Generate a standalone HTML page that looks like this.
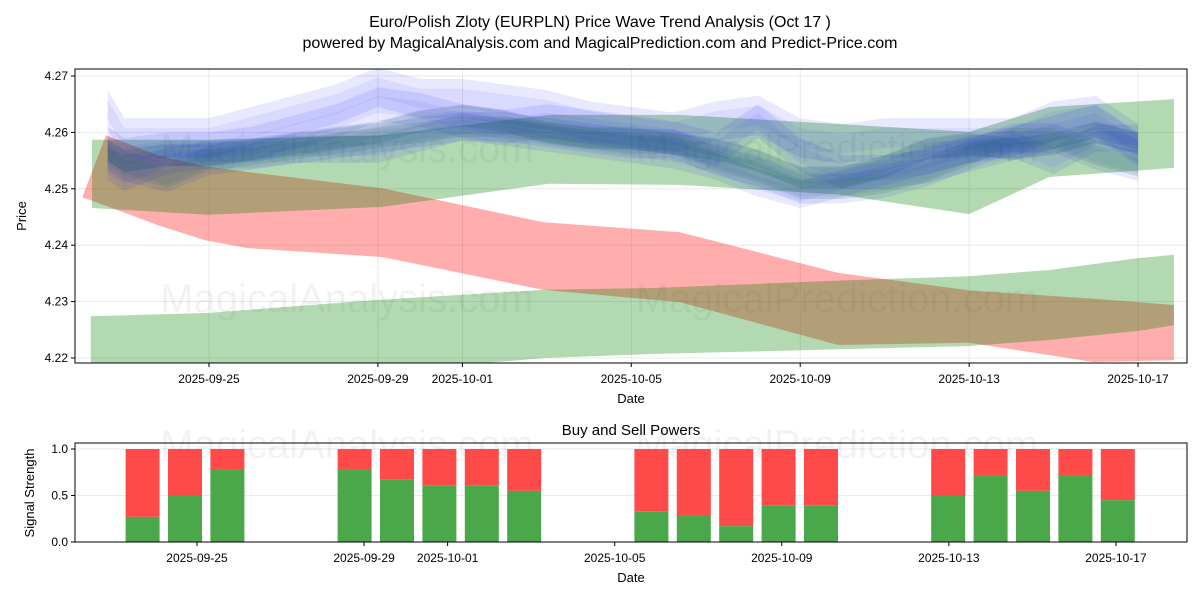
<!DOCTYPE html>
<html><head><meta charset="utf-8"><style>
body{margin:0;background:#fff;font-family:"Liberation Sans","DejaVu Sans",sans-serif}
svg{display:block}
</style></head><body>
<svg id="c" width="1200" height="600" xmlns="http://www.w3.org/2000/svg">
<text x="600" y="27" text-anchor="middle" font-size="16">Euro/Polish Zloty (EURPLN) Price Wave Trend Analysis (Oct 17 )</text>
<text x="600" y="48" text-anchor="middle" font-size="16">powered by MagicalAnalysis.com and MagicalPrediction.com and Predict-Price.com</text>
<g id="top"></g>
<g id="bot"></g>
</svg>
<script>
// ---- data ----
const tickDays = [3,7,9,13,17,21,25];
const tickLabels = ["2025-09-25","2025-09-29","2025-10-01","2025-10-05","2025-10-09","2025-10-13","2025-10-17"];
const priceTicks = [4.22,4.23,4.24,4.25,4.26,4.27];
const redDays = [0.0,0.56,1.77,2.9,3.9,7.1,10.9,14.15,17.9,21,23.95,25.85];
const redUpper = [4.2485,4.2595,4.2560,4.2540,4.2530,4.2501,4.2441,4.2423,4.2351,4.2320,4.2305,4.2294];
const redLower = [4.2485,4.2470,4.2436,4.2409,4.2395,4.2379,4.2321,4.2299,4.2223,4.2227,4.2193,4.2196];
const gHiDays = [0.23,2.98,7.1,11.05,14.15,17.9,21,22.9,25.85];
const gHiUpper = [4.2587,4.2587,4.2595,4.2631,4.2631,4.2615,4.2601,4.2645,4.2659];
const gHiLower = [4.2466,4.2454,4.2468,4.2509,4.2507,4.2490,4.2455,4.2521,4.2537];
const gLoDays = [0.2,3,7,10.95,13.45,18.2,20.97,22.9,25,25.85];
const gLoUpper = [4.2274,4.2280,4.2303,4.2321,4.2324,4.2338,4.2345,4.2356,4.2377,4.2383];
const gLoLower = [4.2150,4.2160,4.2175,4.2200,4.2207,4.2216,4.2221,4.2232,4.2248,4.2258];
const blueDays = [0.6,1,2,3,4,5,6,7,8,9,10,11,12,13,14,15,16,17,18,19,20,21,22,23,24,25];
const blue1 = [4.264,4.259,4.259,4.259,4.261,4.263,4.265,4.268,4.266,4.266,4.265,4.264,4.262,4.261,4.260,4.262,4.263,4.259,4.258,4.259,4.259,4.259,4.259,4.262,4.263,4.258];
const blue2 = [4.258,4.256,4.257,4.257,4.258,4.260,4.262,4.265,4.264,4.262,4.261,4.262,4.261,4.260,4.259,4.257,4.262,4.256,4.253,4.253,4.254,4.256,4.258,4.260,4.262,4.257];
const blue3 = [4.256,4.254,4.252,4.255,4.256,4.257,4.258,4.259,4.260,4.261,4.261,4.260,4.259,4.258,4.258,4.255,4.253,4.250,4.250,4.251,4.253,4.256,4.259,4.259,4.256,4.254];
const blue4 = [4.254,4.252,4.255,4.256,4.256,4.257,4.257,4.257,4.259,4.261,4.260,4.259,4.258,4.257,4.256,4.254,4.251,4.249,4.251,4.253,4.255,4.257,4.258,4.255,4.259,4.259];
const blue5 = [4.257,4.255,4.256,4.256,4.257,4.258,4.259,4.260,4.262,4.263,4.262,4.260,4.259,4.259,4.258,4.257,4.255,4.252,4.252,4.254,4.257,4.258,4.257,4.258,4.260,4.258];
const barDays = [2,3,4,7,8,9,10,11,14,15,16,17,18,21,22,23,24,25];
const buyPower = [0.27,0.5,0.78,0.78,0.67,0.61,0.61,0.55,0.33,0.28,0.17,0.39,0.39,0.5,0.72,0.55,0.72,0.45];
const signalTicks = [0.0,0.5,1.0];

const NS="http://www.w3.org/2000/svg";
function mk(parent,tag,attrs,text){const e=document.createElementNS(NS,tag);for(const k in attrs)e.setAttribute(k,attrs[k]);if(text!==undefined)e.textContent=text;parent.appendChild(e);return e;}
const L=75,R=1187,T=69,B=363;
const xT=d=>82.3+d*42.23;
const yT=p=>76+(4.27-p)*5640;
const topG=document.getElementById('top');
mk(topG,'defs',{}).innerHTML='<clipPath id="cpT"><rect x="75" y="69" width="1112" height="294"/></clipPath>';
tickDays.forEach((d)=>{const g=mk(topG,'line',{x1:xT(d),x2:xT(d),y1:T,y2:B,stroke:'#e3e3e3','stroke-width':0.8});});
priceTicks.forEach(p=>{const g=mk(topG,'line',{x1:L,x2:R,y1:yT(p),y2:yT(p),stroke:'#e3e3e3','stroke-width':0.8});});
const wm1=mk(topG,'text',{x:347,y:162,'font-size':40,fill:'#000','fill-opacity':0.05,'text-anchor':'middle'},'MagicalAnalysis.com');

const wm2=mk(topG,'text',{x:837,y:162,'font-size':40,fill:'#000','fill-opacity':0.05,'text-anchor':'middle'},'MagicalPrediction.com');

const wm3=mk(topG,'text',{x:347,y:312,'font-size':40,fill:'#000','fill-opacity':0.05,'text-anchor':'middle'},'MagicalAnalysis.com');

const wm4=mk(topG,'text',{x:837,y:312,'font-size':40,fill:'#000','fill-opacity':0.05,'text-anchor':'middle'},'MagicalPrediction.com');

const plot=mk(topG,'g',{'clip-path':'url(#cpT)'});
function band(days,up,lo,fill,op,name){
  let pts=days.map((d,i)=>xT(d)+','+yT(up[i]));
  for(let i=days.length-1;i>=0;i--)pts.push(xT(days[i])+','+yT(lo[i]));
  const p=mk(plot,'polygon',{points:pts.join(' '),fill:fill,'fill-opacity':op});
  
  
}
band(redDays,redUpper,redLower,'#ff0000',0.32,'red-band');
band(gHiDays,gHiUpper,gHiLower,'#008000',0.3,'green-band-upper');
band(gLoDays,gLoUpper,gLoLower,'#008000',0.3,'green-band-lower');
[blue1,blue2,blue3,blue4,blue5].forEach((s,k)=>{
  const hw=[0.0035,0.003,0.0026,0.0024,0.002][k];
  band(blueDays,s.map(v=>v+hw),s.map(v=>v-hw),'#0000ff',0.09,'blue-wave-'+(k+1));
  band(blueDays,s.map(v=>v+hw*0.5),s.map(v=>v-hw*0.5),'#0000ff',0.06,'blue-wave-core-'+(k+1));
});
[blue3,blue5].forEach((s,k)=>{
  band(blueDays,s.map(v=>v+0.0018),s.map(v=>v-0.0018),'#2e7d4a',0.18,'green-wave-'+(k+1));
});
mk(topG,'rect',{x:L,y:T,width:R-L,height:B-T,fill:'none',stroke:'#000','stroke-width':1});
priceTicks.forEach(p=>{mk(topG,'line',{x1:L-4,x2:L,y1:yT(p),y2:yT(p),stroke:'#000'});
  const t=mk(topG,'text',{x:L-7,y:yT(p)+4,'font-size':12,'text-anchor':'end'},p.toFixed(2));
  });
tickDays.forEach((d,i)=>{mk(topG,'line',{x1:xT(d),x2:xT(d),y1:B,y2:B+4,stroke:'#000'});
  const t=mk(topG,'text',{x:xT(d),y:B+20,'font-size':12,'text-anchor':'middle'},tickLabels[i]);
  });
const xl=mk(topG,'text',{x:631,y:403,'font-size':13,'text-anchor':'middle'},'Date');

const yl=mk(topG,'text',{x:26,y:216,'font-size':13,'text-anchor':'middle',transform:'rotate(-90 26 216)'},'Price');


const botG=document.getElementById('bot');
const BT=443,BB=542;
const xB=d=>185+(d-3)*42.4;
const xBt=d=>197+(d-3)*41.77;
const yB=v=>542-v*93;
const bt=mk(botG,'text',{x:631,y:435,'font-size':15,'text-anchor':'middle'},'Buy and Sell Powers');

signalTicks.forEach(v=>{mk(botG,'line',{x1:L,x2:R,y1:yB(v),y2:yB(v),stroke:'#e3e3e3','stroke-width':0.8});});
const w5=mk(botG,'text',{x:347,y:458,'font-size':40,fill:'#000','fill-opacity':0.05,'text-anchor':'middle'},'MagicalAnalysis.com');

const w6=mk(botG,'text',{x:837,y:458,'font-size':40,fill:'#000','fill-opacity':0.05,'text-anchor':'middle'},'MagicalPrediction.com');

barDays.forEach((d,i)=>{
  const x=xB(d)-17;
  const s=mk(botG,'rect',{x:x,y:yB(1),width:34,height:yB(buyPower[i])-yB(1),fill:'#ff4a4a'});
  
  const b=mk(botG,'rect',{x:x,y:yB(buyPower[i]),width:34,height:yB(0)-yB(buyPower[i]),fill:'#4aa84a'});
  
});
mk(botG,'rect',{x:L,y:BT,width:R-L,height:BB-BT,fill:'none',stroke:'#000','stroke-width':1});
signalTicks.forEach(v=>{mk(botG,'line',{x1:L-4,x2:L,y1:yB(v),y2:yB(v),stroke:'#000'});
  const t=mk(botG,'text',{x:L-7,y:yB(v)+4,'font-size':12,'text-anchor':'end'},v.toFixed(1));
  });
tickDays.forEach((d,i)=>{mk(botG,'line',{x1:xBt(d),x2:xBt(d),y1:BB,y2:BB+4,stroke:'#000'});
  const t=mk(botG,'text',{x:xBt(d),y:BB+20,'font-size':12,'text-anchor':'middle'},tickLabels[i]);
  });
const bx=mk(botG,'text',{x:631,y:582,'font-size':13,'text-anchor':'middle'},'Date');

const by=mk(botG,'text',{x:34,y:493,'font-size':13,'text-anchor':'middle',transform:'rotate(-90 34 493)'},'Signal Strength');

</script>
</body></html>
